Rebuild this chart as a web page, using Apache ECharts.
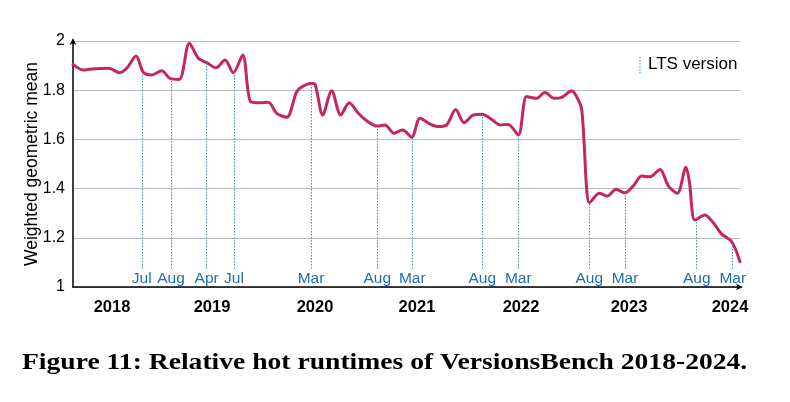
<!DOCTYPE html>
<html>
<head>
<meta charset="utf-8">
<script src="https://cdn.jsdelivr.net/npm/echarts@6/dist/echarts.min.js"></script>
<style>
html,body{margin:0;padding:0;background:#fff;}
#c{width:790px;height:402px;}
</style>
</head>
<body>
<div id="c"></div>
<script>
// Release position along the (ordinal) x axis, and the weighted geometric mean
const releasePos = [0, 1.54, 2.80, 5.29, 5.80, 6.94, 8.05, 9.45, 10.54, 11.80, 13.30, 14.54, 15.94,
  17.44, 18.79, 20.04, 21.44, 22.79, 24.03, 25.44, 26.64, 28.04, 29.28, 30.54, 32.04, 33.54, 34.53,
  35.79, 36.28, 37.44, 38.79, 40.13, 41.42, 42.77, 44.03, 45.62, 46.78, 48.13, 49.43, 50.78, 52.02,
  53.52, 54.77, 56.03, 57.38, 58.62, 60.02, 61.36, 62.52, 64.02, 65.26, 66.76, 68.02, 69.52, 70.76,
  72.11, 73.27, 74.77, 75.76, 76.27, 76.66, 77.02, 77.41, 78.91, 80.10, 81.41, 82.76, 84.00, 85.26,
  86.51, 88.01, 89.25, 90.60, 91.90, 92.40, 93.25, 94.75, 95.99, 97.26, 98.76, 100];
const meanValues = [1.905, 1.882, 1.886, 1.889, 1.886, 1.871, 1.889, 1.939, 1.873, 1.862, 1.879, 1.848, 1.844,
  1.991, 1.930, 1.912, 1.891, 1.923, 1.871, 1.943, 1.753, 1.749, 1.751, 1.706, 1.690, 1.794, 1.817,
  1.828, 1.825, 1.699, 1.798, 1.699, 1.749, 1.706, 1.676, 1.654, 1.659, 1.625, 1.638, 1.609, 1.686,
  1.663, 1.652, 1.659, 1.722, 1.668, 1.699, 1.702, 1.686, 1.659, 1.661, 1.618, 1.774, 1.767, 1.791,
  1.767, 1.771, 1.798, 1.760, 1.720, 1.570, 1.394, 1.343, 1.381, 1.370, 1.397, 1.383, 1.411, 1.451,
  1.448, 1.478, 1.411, 1.381, 1.487, 1.430, 1.272, 1.293, 1.261, 1.215, 1.184, 1.103];

// LTS versions
const ltsPos   = [10.31, 14.69, 20.04, 24.14, 35.69, 45.62, 50.87, 61.36, 66.76, 77.41, 82.76, 93.51, 98.91];
const ltsMonth = ['Jul', 'Aug', 'Apr', 'Jul', 'Mar', 'Aug', 'Mar', 'Aug', 'Mar', 'Aug', 'Mar', 'Aug', 'Mar'];
const ltsTop   = [1.869, 1.846, 1.912, 1.869, 1.828, 1.654, 1.609, 1.702, 1.618, 1.343, 1.383, 1.270, 1.175];

// Year tick labels
const yearPos    = [5.85, 20.84, 36.28, 51.57, 67.17, 83.36, 98.5];
const yearLabels = ['2018', '2019', '2020', '2021', '2022', '2023', '2024'];

const FONT = 'Liberation Sans, Arial, sans-serif';
const chart = echarts.init(document.getElementById('c'), null, {renderer: 'canvas'});

const lineData = releasePos.map((x, i) => [x, meanValues[i]]);
const ltsLines = ltsPos.map((x, i) => [
  {coord: [x, 1.075], name: ltsMonth[i]},
  {coord: [x, ltsTop[i]]}
]);

chart.setOption({
  animation: false,
  backgroundColor: '#fff',
  textStyle: {fontFamily: FONT},
  grid: {left: 73, right: 50, top: 41, bottom: 115, containLabel: false},
  xAxis: {
    type: 'value', min: 0, max: 100,
    axisLine: {show: true, lineStyle: {color: '#000', width: 1.5}, symbol: ['none', 'arrow'], symbolSize: [5, 7], symbolOffset: [0, 3]},
    axisTick: {show: false},
    splitLine: {show: false},
    axisLabel: {
      customValues: yearPos,
      formatter: v => { const i = yearPos.indexOf(v); return i >= 0 ? yearLabels[i] : ''; },
      color: '#000', fontWeight: 'bold', fontSize: 16.5, fontFamily: FONT, margin: 12
    }
  },
  yAxis: {
    type: 'value', min: 1, max: 2, interval: 0.2,
    name: 'Weighted geometric mean', nameLocation: 'middle', nameGap: 32, nameMoveOverlap: false,
    nameTextStyle: {color: '#000', fontSize: 17.5, fontFamily: FONT},
    axisLine: {show: true, lineStyle: {color: '#000', width: 1.5}, symbol: ['none', 'arrow'], symbolSize: [5, 7], symbolOffset: [0, 3]},
    axisTick: {show: false},
    splitLine: {show: true, lineStyle: {color: '#bdbdbd', width: 1.2}},
    axisLabel: {
      color: '#000', fontSize: 16, fontFamily: FONT, margin: 8,
      formatter: v => (Math.abs(v - Math.round(v)) < 1e-9 ? String(Math.round(v)) : v.toFixed(1))
    }
  },
  graphic: [
    {type: 'line', shape: {x1: 640, y1: 57, x2: 640, y2: 74}, style: {stroke: '#3d8fc4', lineWidth: 1, lineDash: [1.5, 1.5]}},
    {type: 'text', x: 648, y: 56, style: {text: 'LTS version', fill: '#000', font: '17px ' + FONT}},
    {type: 'text', x: 22, y: 351, scaleX: 1.2, scaleY: 1.03,
     style: {text: 'Figure 11: Relative hot runtimes of VersionsBench 2018-2024.', fill: '#000',
             font: 'bold 23px "Liberation Serif", "Times New Roman", serif'}}
  ],
  series: [{
    type: 'line',
    data: lineData,
    showSymbol: false,
    smooth: 0.3,
    lineStyle: {color: '#c5265e', width: 3, join: 'round', cap: 'round'},
    z: 3,
    markLine: {
      silent: true,
      symbol: ['none', 'none'],
      animation: false,
      lineStyle: {color: '#3d8fc4', width: 1, type: [1.5, 1.5]},
      label: {show: true, position: 'start', formatter: '{b}', color: '#1e6fab', fontSize: 15.5, fontFamily: FONT, distance: 2},
      emphasis: {disabled: true},
      data: ltsLines
    }
  }]
});
</script>
</body>
</html>
